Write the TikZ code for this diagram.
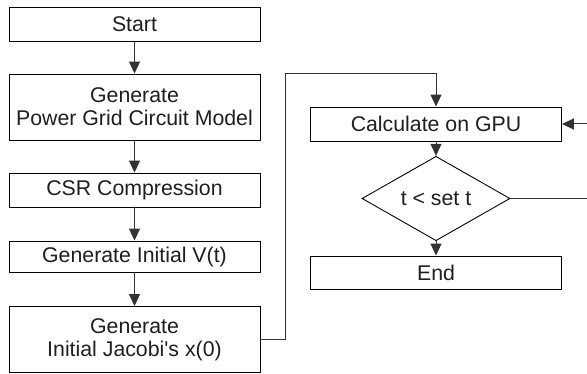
\documentclass[tikz,border=0pt]{standalone}
\usepackage{fontspec}
\setmainfont{Liberation Sans}
\usetikzlibrary{shapes.geometric,arrows.meta}
\begin{document}
\begin{tikzpicture}[x=1pt,y=-1pt,
  box/.style={draw=black,line width=0.9pt,minimum width=251pt,inner sep=0pt,
    align=center,font=\fontsize{21.3}{23}\selectfont,text=black!88},
  decision/.style={draw=black,line width=0.9pt,diamond,inner sep=0pt,
    minimum width=148pt,minimum height=49pt,font=\fontsize{21.3}{23}\selectfont,text=black!88},
  arr/.style={line width=1pt,draw=black!80,-{Triangle[length=12pt,width=11pt]}},
  link/.style={line width=1pt,draw=black!80}]
\useasboundingbox (0,0) rectangle (587,374);
\fill[white] (0,0) rectangle (587,374);

% left column
\node[box,minimum height=34pt] (start) at (134.5,24.5) {Start};
\node[box,minimum height=66pt] (model) at (134.5,107) {Generate\\Power Grid Circuit Model};
\node[box,minimum height=34pt] (csr) at (134.5,190) {CSR Compression};
\node[box,minimum height=31pt] (initv) at (134.5,256.5) {Generate Initial V(t)};
\node[box,minimum height=66pt] (jacobi) at (134.5,339.5) {Generate\\Initial Jacobi\textquotesingle s x(0)};

% right column
\node[box,minimum height=34pt] (gpu) at (436,124) {Calculate on GPU};
\node[decision] (cond) at (436,198.5) {t < set t};
\node[box,minimum height=33pt] (end) at (436,272.5) {End};

% connectors
\draw[arr] (start) -- (model);
\draw[arr] (model) -- (csr);
\draw[arr] (csr) -- (initv);
\draw[arr] (initv) -- (jacobi);

\coordinate (up) at (285,339.5);
\coordinate (top) at (285,74);
\draw[arr] (jacobi.east) -- (up) -- (top) -| (gpu.north);

\draw[arr] (gpu) -- (cond);
\draw[arr] (cond) -- (end);

\coordinate (loop) at (610,198.5);
\draw[arr] (cond.east) -- (loop) |- (gpu.east);
\end{tikzpicture}
\end{document}
